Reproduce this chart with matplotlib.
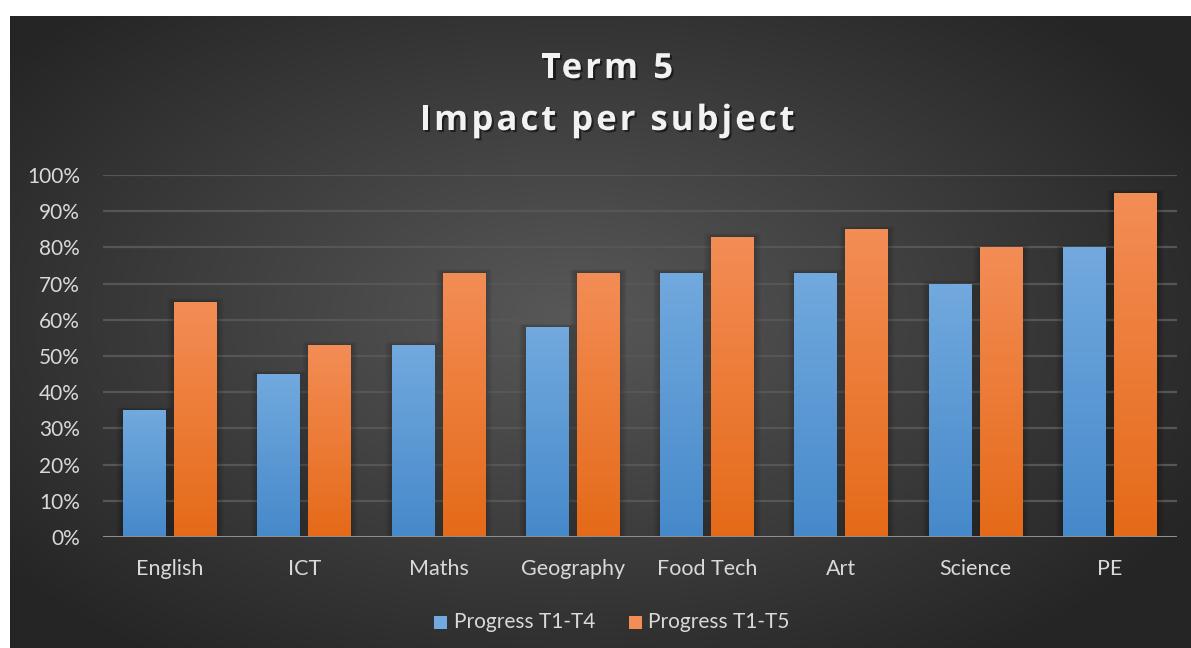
import matplotlib
matplotlib.use("Agg")
import matplotlib.pyplot as plt
import matplotlib.patheffects as pe
from matplotlib.patches import Rectangle
import numpy as np

# data
subjects = ["English", "ICT", "Maths", "Geography", "Food Tech", "Art", "Science", "PE"]
progress_t4 = [0.35, 0.45, 0.53, 0.58, 0.73, 0.73, 0.70, 0.80]
progress_t5 = [0.65, 0.53, 0.73, 0.73, 0.83, 0.85, 0.80, 0.95]
series_names = ["Progress T1-T4", "Progress T1-T5"]
y_ticks = [0, 0.1, 0.2, 0.3, 0.4, 0.5, 0.6, 0.7, 0.8, 0.9, 1.0]

TEXT = "#d9d9d9"
BLUE_TOP, BLUE_BOT = "#72a9de", "#4689ca"
ORANGE_TOP, ORANGE_BOT = "#f38d56", "#e56a18"
FONT = "Lato"

W, H = 1191, 648
fig = plt.figure(figsize=(W / 100, H / 100), dpi=100, facecolor="white")

# dark radial-gradient panel
bg = fig.add_axes([10 / W, 0, (W - 10) / W, (H - 16) / H])
bg.set_axis_off()
yy, xx = np.mgrid[0:632, 0:1181]
r = np.sqrt(((xx - 560) / 720.0) ** 2 + ((yy - 300) / 420.0) ** 2)
r = np.clip(r, 0, 1)
shade = (0x58 + (0x25 - 0x58) * r) / 255.0
bg.imshow(np.dstack([shade, shade, shade]), aspect="auto", extent=[0, 1, 0, 1], origin="upper")
bg.set_xlim(0, 1)
bg.set_ylim(0, 1)

# main axes
ax = fig.add_axes([103 / W, (H - 537) / H, (1177 - 103) / W, (537 - 175) / H])
ax.patch.set_alpha(0)
x = np.arange(len(subjects))
bw = 0.32
off = 0.19

for yt in y_ticks[1:]:
    ax.axhline(yt, color="#565656", lw=1.6, zorder=1)
ax.axhline(0, color="#8f8f8f", lw=2.2, zorder=6)


def grad_bar(xc, h, top, bot):
    # soft shadow around the bar
    for k in np.linspace(0.006, 0.05, 7):
        ax.add_patch(Rectangle((xc - bw / 2 - k, 0), bw + 2 * k, h + k * 0.18,
                               facecolor="black", edgecolor="none", alpha=0.028, zorder=2))
    rect = Rectangle((xc - bw / 2, 0), bw, h, facecolor=bot, edgecolor="none", zorder=3)
    ax.add_patch(rect)
    c_top = np.array(matplotlib.colors.to_rgb(top))
    c_bot = np.array(matplotlib.colors.to_rgb(bot))
    t = np.linspace(0, 1, 100)[:, None]
    img = c_top * (1 - t) + c_bot * t
    im = ax.imshow(img[:, None, :], aspect="auto", extent=[xc - bw / 2, xc + bw / 2, 0, h],
                   origin="upper", zorder=4)
    im.set_clip_path(rect)


for i in range(len(subjects)):
    grad_bar(x[i] - off, progress_t4[i], BLUE_TOP, BLUE_BOT)
    grad_bar(x[i] + off, progress_t5[i], ORANGE_TOP, ORANGE_BOT)

ax.set_xlim(-0.5, len(subjects) - 0.5)
ax.set_ylim(0, 1.0)
ax.set_yticks(y_ticks)
ax.set_yticklabels([f"{int(round(v * 100))}%" for v in y_ticks], fontsize=15, color=TEXT, family=FONT)
ax.set_xticks(x)
ax.set_xticklabels(subjects, fontsize=15.5, color=TEXT, family=FONT)
ax.tick_params(length=0)
ax.tick_params(axis="y", pad=16.5)
ax.tick_params(axis="x", pad=16)
for s in ax.spines.values():
    s.set_visible(False)

# title, drawn char by char for the wide letter spacing
renderer = fig.canvas.get_renderer()
shadow = [pe.withSimplePatchShadow(offset=(1.5, -1.5), shadow_rgbFace="black", alpha=0.5)]
title_kw = dict(fontsize=25, fontweight="bold", color="#f2f2f2", family="Open Sans")


def text_w(s):
    t = fig.text(0, 0, s, **title_kw)
    w = t.get_window_extent(renderer).width
    t.remove()
    return w


def spaced_title(s, cx, cy, spacing=3.0):
    total = text_w(s) + spacing * (len(s) - 1)
    x0 = cx - total / 2
    for k, ch in enumerate(s):
        if ch == " ":
            continue
        xk = x0 + text_w(s[:k + 1]) - text_w(ch) + spacing * k
        fig.text(xk / W, 1 - cy / H, ch, ha="left", va="baseline", path_effects=shadow, **title_kw)


spaced_title("Term 5", 607, 78)
spaced_title("Impact per subject", 607, 130)

# legend
for (sx, tx, top, name) in [(434, 454, BLUE_TOP, series_names[0]),
                            (629, 648, ORANGE_TOP, series_names[1])]:
    fig.patches.append(Rectangle((sx / W, 1 - 629 / H), 13 / W, 13 / H, transform=fig.transFigure,
                                 facecolor=top, edgecolor="none", figure=fig))
    fig.text(tx / W, 1 - 622 / H, name, ha="left", va="center", fontsize=15, color=TEXT, family=FONT)

fig.savefig("out.png", dpi=100, facecolor="white")
